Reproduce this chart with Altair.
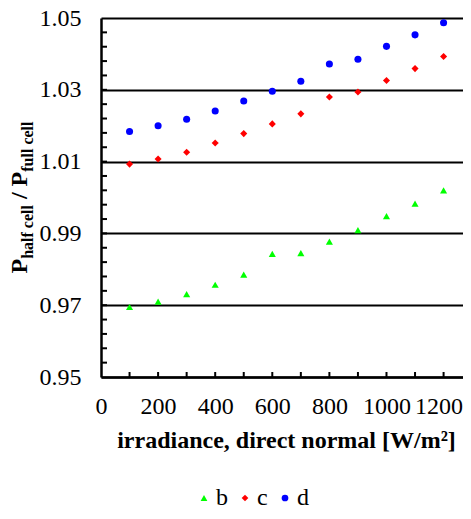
import altair as alt
import pandas as pd

# ---------------- data ----------------
irradiance = [100, 200, 300, 400, 500, 600, 700, 800, 900, 1000, 1100, 1200]
series_b = [0.9695, 0.9710, 0.9731, 0.9757, 0.9785, 0.9843, 0.9845, 0.9877, 0.9909, 0.9948, 0.9983, 1.0020]
series_c = [1.0093, 1.0107, 1.0126, 1.0152, 1.0178, 1.0205, 1.0233, 1.0280, 1.0294, 1.0326, 1.0359, 1.0393]
series_d = [1.0184, 1.0200, 1.0218, 1.0241, 1.0269, 1.0296, 1.0324, 1.0372, 1.0385, 1.0421, 1.0453, 1.0487]

series_names = ["b", "c", "d"]
series_colors = ["#00FF00", "#FF0000", "#0000FF"]
series_shapes = ["triangle-up", "diamond", "circle"]

x_tick_labels = [0, 200, 400, 600, 800, 1000, 1200]
x_minor_ticks = [100, 200, 300, 400, 500, 600, 700, 800, 900, 1000, 1100, 1200]
y_tick_labels = [0.95, 0.97, 0.99, 1.01, 1.03, 1.05]
y_minor_ticks = [0.954, 0.958, 0.962, 0.966, 0.970, 0.974, 0.978, 0.982, 0.986, 0.990,
                 0.994, 0.998, 1.002, 1.006, 1.010, 1.014, 1.018, 1.022, 1.026, 1.030,
                 1.034, 1.038, 1.042, 1.046]

x_title = "irradiance, direct normal [W/m²]"

rows = []
for name, vals in zip(series_names, [series_b, series_c, series_d]):
    for xv, yv in zip(irradiance, vals):
        rows.append({"irr": xv, "ratio": yv, "series": name})
df = pd.DataFrame(rows)

# ---------------- layout ----------------
W, H = 362, 359
FONT = "Liberation Serif"
xscale = alt.Scale(domain=[0, 1268], nice=False, zero=False)
yscale = alt.Scale(domain=[0.95, 1.05], nice=False, zero=False)

x_axis = alt.Axis(values=x_tick_labels, format="d", title=x_title, grid=False, ticks=False,
                  labelPadding=17, titleY=70, titleBaseline="alphabetic", titleX=185,
                  labelFlush=False, labelOverlap=False,
                  labelOffset={"condition": {"test": "datum.value === 1200", "value": -5}, "value": 0})
y_axis = alt.Axis(values=y_tick_labels, format=".2f", title=None, grid=True,
                  ticks=False, labelPadding=20, labelFlush=False, labelOverlap=False)

legend = alt.Legend(
    title=None, orient="none", legendX=91, legendY=468, direction="horizontal",
    columns=3, symbolSize=45, symbolStrokeWidth=0, labelFont=FONT, labelFontSize=24,
    labelColor="black", labelOffset=0, columnPadding=5, padding=0,
)

points = alt.Chart(df).mark_point(filled=True, opacity=1, size=50, strokeWidth=0).encode(
    x=alt.X("irr:Q", scale=xscale, axis=x_axis),
    y=alt.Y("ratio:Q", scale=yscale, axis=y_axis),
    color=alt.Color("series:N", scale=alt.Scale(domain=series_names, range=series_colors), legend=legend),
    shape=alt.Shape("series:N", scale=alt.Scale(domain=series_names, range=series_shapes), legend=legend),
)

y_ticks = alt.Chart(pd.DataFrame({"ratio": y_minor_ticks})).mark_rule(color="black", strokeWidth=2).encode(
    x=alt.value(0), x2=alt.value(6), y=alt.Y("ratio:Q", scale=yscale, axis=y_axis)
)
x_ticks = alt.Chart(pd.DataFrame({"irr": x_minor_ticks})).mark_rule(color="black", strokeWidth=2).encode(
    x=alt.X("irr:Q", scale=xscale, axis=x_axis), y=alt.value(H), y2=alt.value(H - 5)
)

# rotated y title with subscripts: P_half cell / P_full cell
widths = {" ": 250, "/": 278, "P": 611, "a": 500, "c": 444, "e": 444, "f": 333,
          "h": 556, "l": 278, "u": 556}


def tw(s, fs):
    return sum(widths[ch] for ch in s) / 1000 * fs


BIG, SUB = 24, 16
segments = [("P", BIG, -74), ("half cell", SUB, -68), (" ", BIG, None), ("/", BIG, -74),
            (" ", BIG, None), ("P", BIG, -74), ("full cell", SUB, -68)]
total = sum(tw(s, f) for s, f, _ in segments)
ypos = H / 2 + total / 2
title_layers = []
for s, f, xp in segments:
    if xp is not None:
        title_layers.append(
            alt.Chart(alt.Data(values=[{"t": s}])).mark_text(
                angle=270, align="left", baseline="alphabetic", font=FONT,
                fontWeight="bold", fontSize=f, color="black"
            ).encode(text="t:N", x=alt.value(xp), y=alt.value(ypos))
        )
    ypos -= tw(s, f)

chart = alt.layer(x_ticks, y_ticks, points, *title_layers).properties(
    width=W, height=H,
    autosize=alt.AutoSizeParams(type="none"),
    padding={"left": 93, "top": 10, "right": 0, "bottom": 130},
    background="white",
).configure_view(stroke=None).configure_axis(
    domainColor="black", domainWidth=2.5, gridColor="black", gridWidth=2,
    labelFont=FONT, labelFontSize=24, labelColor="black",
    titleFont=FONT, titleFontSize=24, titleColor="black", titleFontWeight="bold",
)

chart.save("out.html", embed_options={"renderer": "svg", "actions": False})
